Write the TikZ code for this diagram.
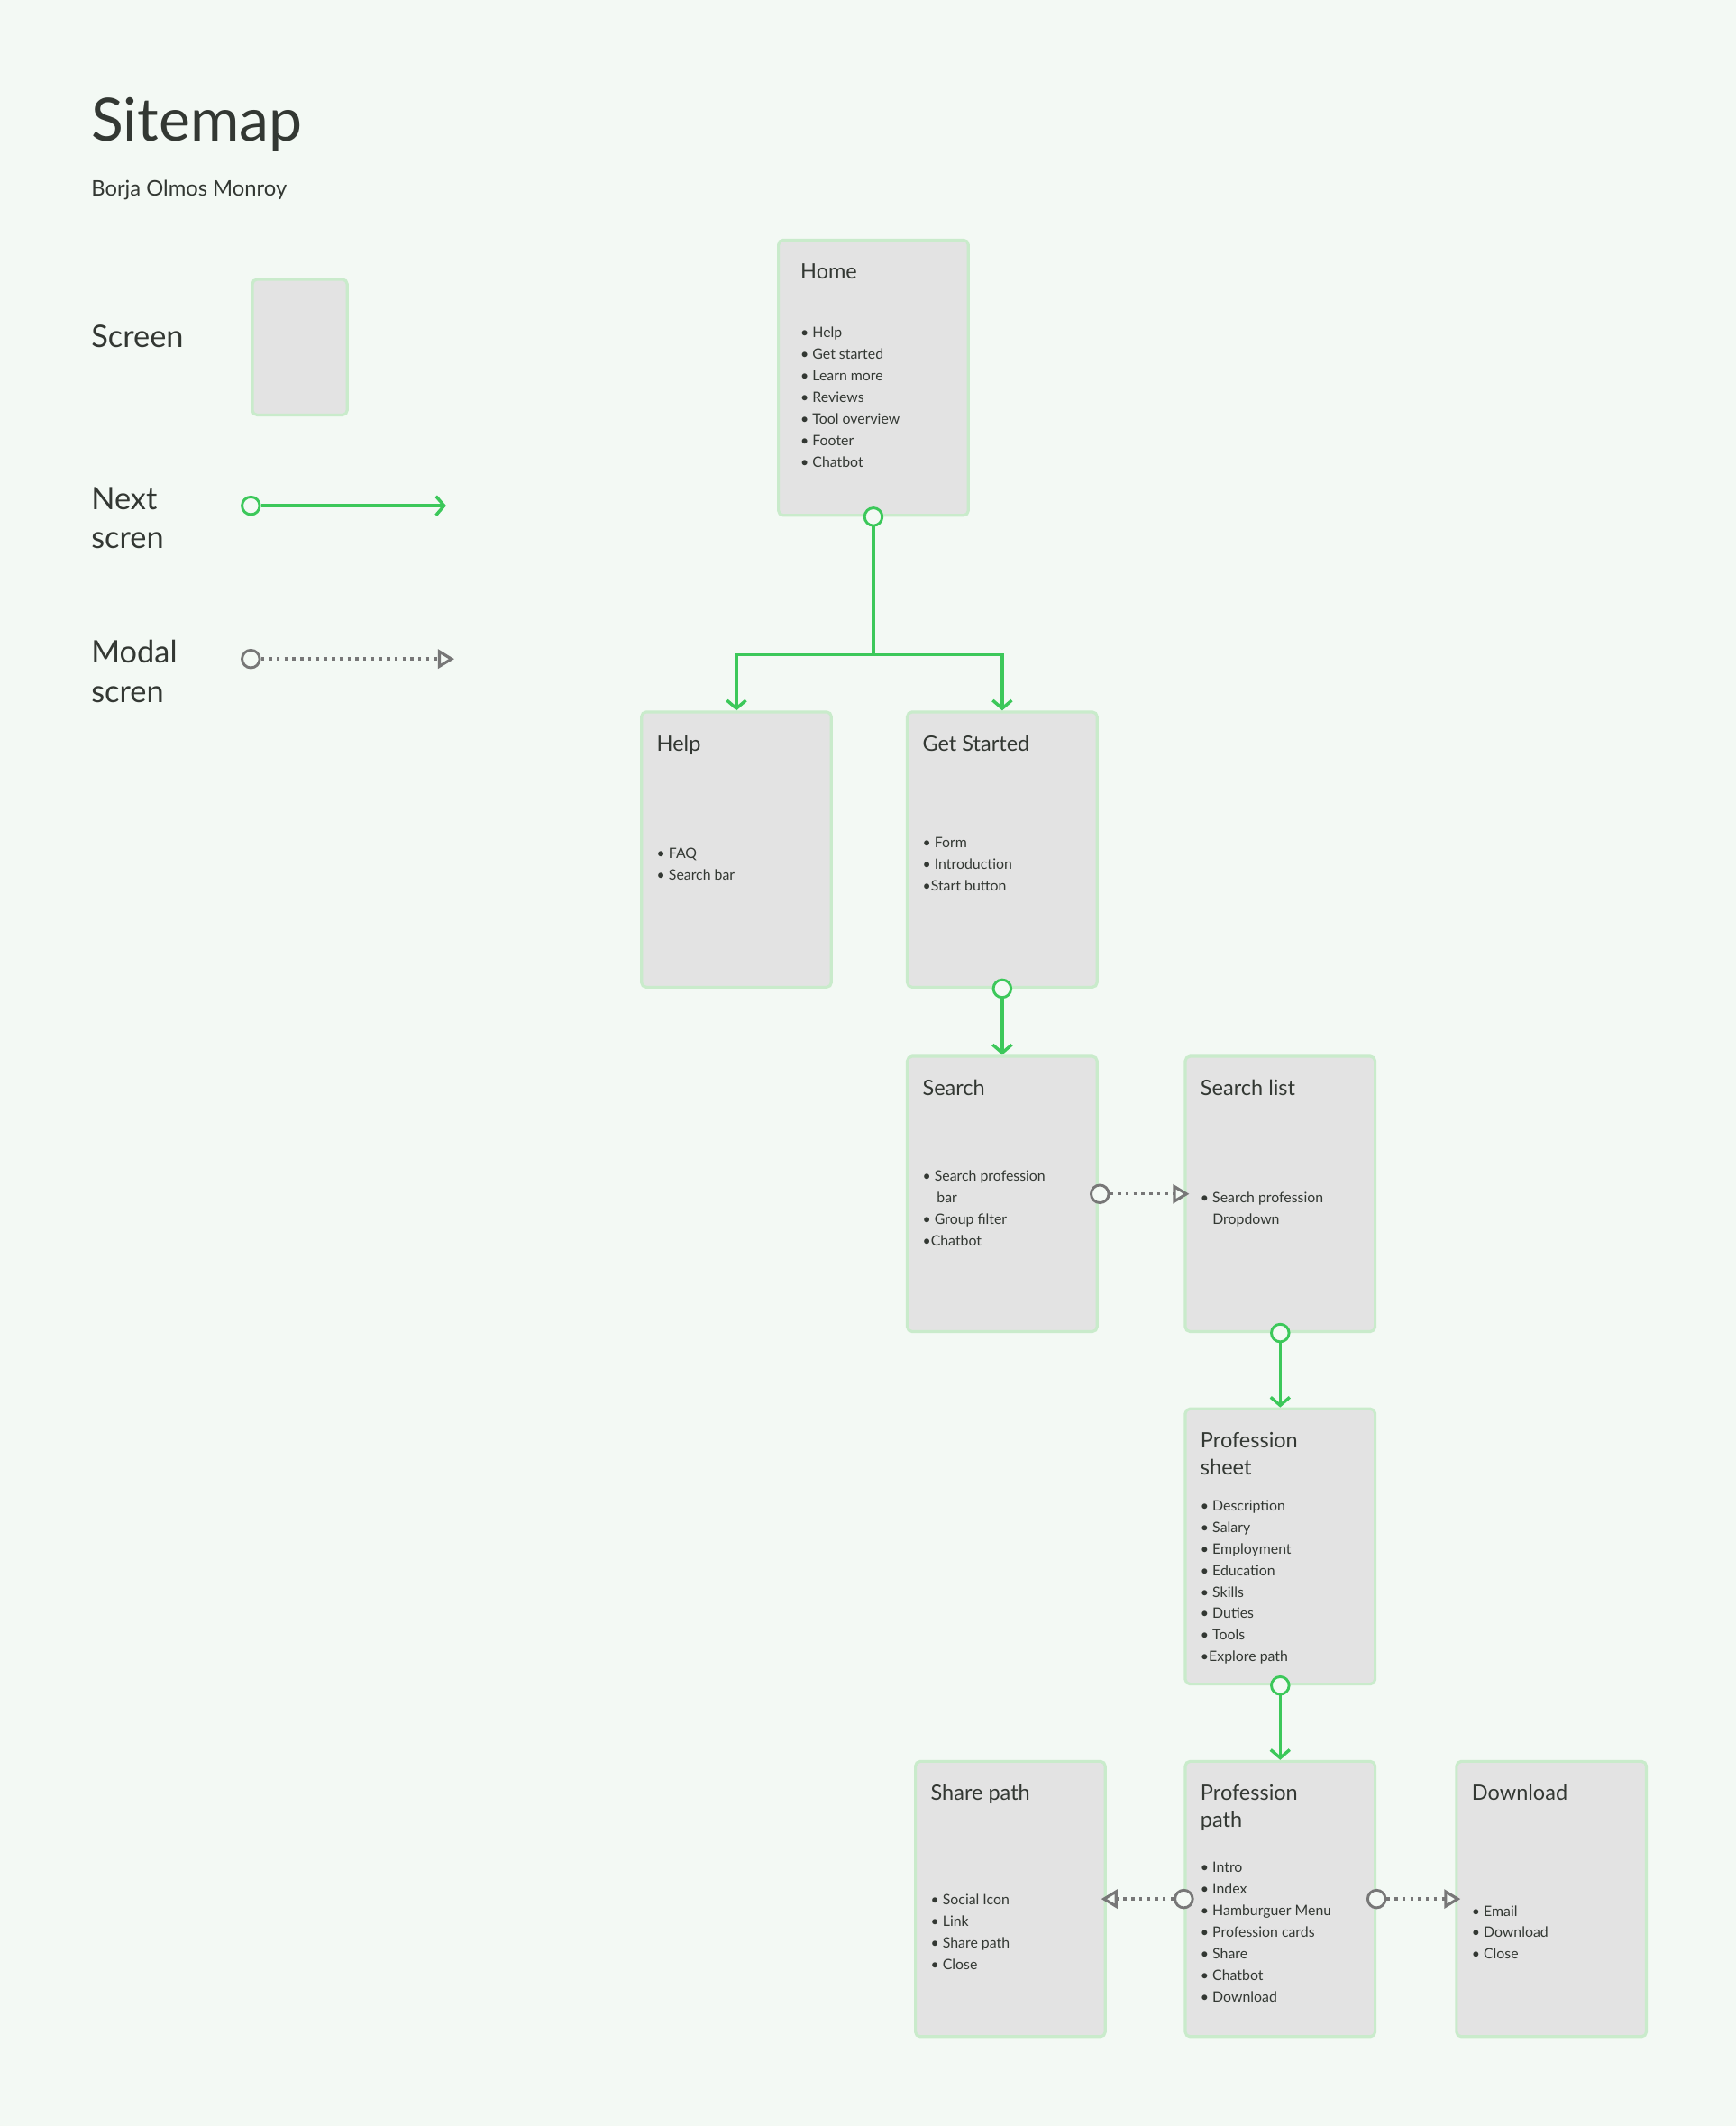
\documentclass[tikz,border=0pt]{standalone}
\usepackage{fontspec}
\setmainfont{Lato}
\usetikzlibrary{positioning,arrows.meta}
\definecolor{bg}{HTML}{F3F9F4}
\definecolor{boxfill}{HTML}{E3E3E3}
\definecolor{boxline}{HTML}{C9EBCB}
\definecolor{nextgreen}{HTML}{3CC85A}
\definecolor{modalgray}{HTML}{777777}
\definecolor{ink}{HTML}{333833}
\tikzset{
  screen/.style={draw=boxline, line width=1.2pt, fill=boxfill, rounded corners=2pt, minimum width=140\unit, minimum height=203\unit, inner sep=0pt},
  screentitle/.style={anchor=north west, inner sep=0pt, align=left, text=ink, font=\fontsize{8.9}{11.3}\selectfont},
  screenlist/.style={anchor=north west, inner sep=0pt, align=left, text=ink, font=\fontsize{6}{9.07}\selectfont},
  ring/.style={circle, draw=#1, line width=1.1pt, fill=bg, minimum size=13\unit, inner sep=0pt},
  next/.style={draw=nextgreen, line width=1.3pt, -{Straight Barb[length=6\unit,width=14\unit,line width=1.3pt]}},
  modal/.style={draw=modalgray, line width=1.3pt, dotted, -{Triangle[open,length=12\unit,width=14\unit,line width=1.2pt]}},
}
\def\unit{*0.02cm}
% one screen box: name, left, top, title, list offset, list
\newcommand{\screenbox}[7][12]{%
  \node[screen, anchor=north west] (#2) at (#3,#4) {};
  \node[screentitle] (#2-title) at ([xshift=#1\unit,yshift=-18\unit]#2.north west) {#5};
  \node[screenlist] (#2-list) at ([xshift=#1\unit,yshift=-#6\unit]#2.north west) {#7};
}
\begin{document}
\begin{tikzpicture}[x=0.02cm, y=-0.02cm]
\fill[bg] (0,0) rectangle (1280,1568);
\useasboundingbox (0,0) rectangle (1280,1568);

%%%%% title
\node[anchor=west, inner sep=0pt, text=ink, font=\fontsize{25}{28}\selectfont] (title) at (67,92) {Sitemap};
\node[anchor=west, inner sep=0pt, text=ink, font=\fontsize{9}{10}\selectfont] (author) at (67,140) {Borja Olmos Monroy};

%%%%% legend
\node[anchor=west, inner sep=0pt, text=ink, font=\fontsize{13}{16}\selectfont] (lscreen) at (67,248) {Screen};
\node[screen, minimum width=70\unit, minimum height=100\unit, anchor=north west] (lbox) at (185,205) {};
\node[anchor=west, inner sep=0pt, align=left, text=ink, font=\fontsize{13}{16.5}\selectfont] (lnext) at (67,382) {Next\\scren};
\node[anchor=west, inner sep=0pt, align=left, text=ink, font=\fontsize{13}{16.5}\selectfont] (lmodal) at (67,495) {Modal\\scren};
\node[ring=nextgreen] (lnexta) at (185,373) {};
\coordinate (lnextb) at (329,373);
\draw[next] (lnexta) -- (lnextb);
\node[ring=modalgray] (lmodala) at (185,486) {};
\coordinate (lmodalb) at (335,486);
\draw[modal] (lmodala) -- (lmodalb);

%%%%% screens
\screenbox[17]{home}{573}{176}{Home}{65}{• Help\\• Get started\\• Learn more\\• Reviews\\• Tool overview\\• Footer\\• Chatbot}
\screenbox{help}{472}{524}{Help}{101}{• FAQ\\• Search bar}
\screenbox{start}{668}{524}{Get Started}{93}{• Form\\• Introduction\\•Start button}
\screenbox{search}{668}{778}{Search}{85}{• Search profession\\\phantom{• }\hspace{1pt}bar\\• Group filter\\•Chatbot}
\screenbox{slist}{873}{778}{Search list}{101}{• Search profession\\\phantom{• }Dropdown}
\screenbox{sheet}{873}{1038}{Profession\\sheet}{68}{• Description\\• Salary\\• Employment\\• Education\\• Skills\\• Duties\\• Tools\\•Explore path}
\screenbox{share}{674}{1298}{Share path}{99}{• Social Icon\\• Link\\• Share path\\• Close}
\screenbox{ppath}{873}{1298}{Profession\\path}{75}{• Intro\\• Index\\• Hamburguer Menu\\• Profession cards\\• Share\\• Chatbot\\• Download}
\screenbox{download}{1073}{1298}{Download}{107}{• Email\\• Download\\• Close}

%%%%% next screen
\coordinate (fork) at (home.south |- 0,483);
\draw[draw=nextgreen, line width=1.3pt] (home.south) -- (fork);
\draw[next] (fork) -| (help.north);
\draw[next] (fork) -| (start.north);
\node[ring=nextgreen] (homeout) at (home.south) {};
\draw[next] (start.south) -- (search.north);
\node[ring=nextgreen] (startout) at (start.south) {};
\draw[next] (slist.south) -- (sheet.north);
\node[ring=nextgreen] (slistout) at (slist.south) {};
\draw[next] (sheet.south) -- (ppath.north);
\node[ring=nextgreen] (sheetout) at (sheet.south) {};

%%%%% modal screen
\node[ring=modalgray] (searchout) at ([xshift=1\unit]search.east) {};
\draw[modal] (searchout) -- ([xshift=4\unit]slist.west);
\node[ring=modalgray] (ppathl) at (ppath.west) {};
\draw[modal] (ppathl) -- ([xshift=-4\unit]share.east);
\node[ring=modalgray] (ppathr) at (ppath.east) {};
\draw[modal] (ppathr) -- ([xshift=4\unit]download.west);
\end{tikzpicture}
\end{document}
